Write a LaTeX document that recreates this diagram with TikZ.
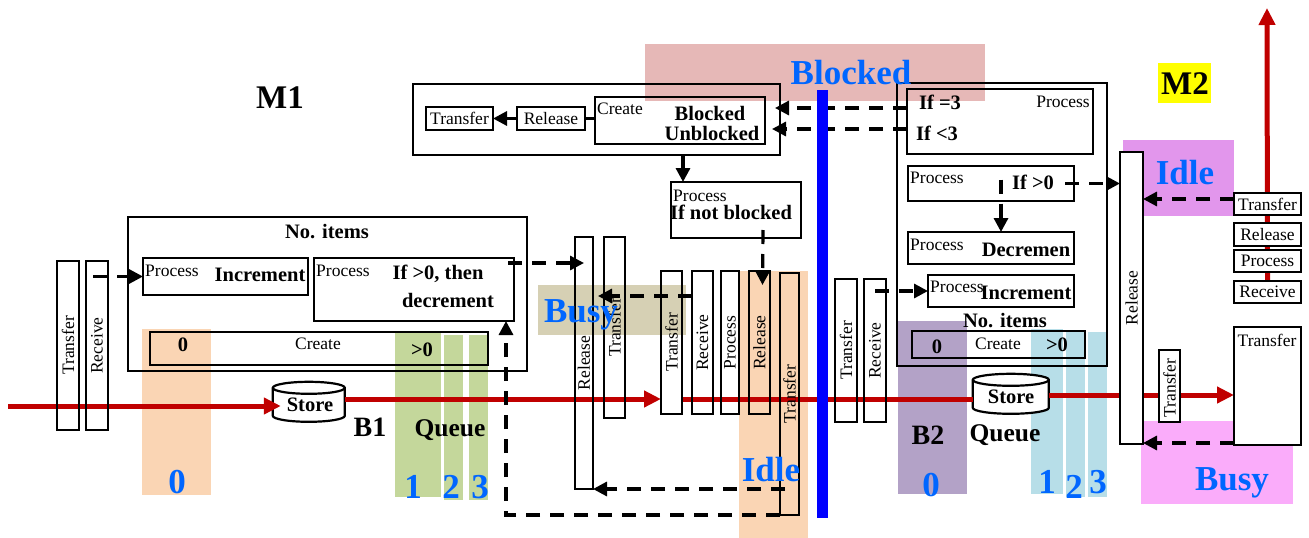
\documentclass[tikz,border=0pt]{standalone}
\usepackage{fontspec}
\setmainfont{Liberation Serif}
\usetikzlibrary{arrows.meta,fit}
\pgfdeclarelayer{bg}
\pgfsetlayers{bg,main}
\definecolor{cpeach}{RGB}{250,213,180}
\definecolor{cgreen}{RGB}{196,215,155}
\definecolor{colive}{RGB}{214,208,180}
\definecolor{cpinkb}{RGB}{230,184,183}
\definecolor{cpurple}{RGB}{179,162,199}
\definecolor{clblue}{RGB}{183,222,232}
\definecolor{cmag}{RGB}{226,150,236}
\definecolor{cpinkr}{RGB}{250,172,250}
\definecolor{cyel}{RGB}{255,255,0}
\definecolor{cred}{RGB}{192,0,0}
\definecolor{cblue}{RGB}{0,0,255}
\definecolor{tblue}{RGB}{0,102,255}
\newcommand{\fs}{\fontsize{17.5}{19}\selectfont}
\newcommand{\fb}{\fontsize{20.5}{22}\selectfont\bfseries}
\newcommand{\fbig}{\fontsize{35}{38}\selectfont\bfseries}
\newcommand{\fq}{\fontsize{25.5}{28}\selectfont\bfseries}
\newcommand{\fbb}{\fontsize{28}{30}\selectfont\bfseries}
\newcommand{\fm}{\fontsize{33}{36}\selectfont\bfseries}
\begin{document}
\begin{tikzpicture}[x=1pt,y=1pt,
  box/.style={draw, line width=2.2pt, inner sep=0pt, outer sep=0pt},
  wbox/.style={box, fill=white},
  dasharr/.style={line width=3.2pt, dash pattern=on 14pt off 10pt, -{Triangle[length=14pt,width=14pt]}},
  solarr/.style={line width=3.2pt, -{Triangle[length=14pt,width=14pt]}},
  solln/.style={line width=3.2pt},
  redarr/.style={line width=5pt, cred, -{Triangle[length=17pt,width=16pt]}},
  redln/.style={line width=5pt, cred},
  sm/.style={font=\fs, inner sep=0pt},
  bd/.style={font=\fb, inner sep=0pt},
  vt/.style={font=\fs, inner sep=0pt, rotate=90},
  big/.style={font=\fbig, text=tblue, inner sep=0pt},
  qq/.style={font=\fq, inner sep=0pt},
  bb/.style={font=\fbb, inner sep=0pt},
  cyl/.style={line width=2.2pt, fill=white}]
\useasboundingbox (0,0) rectangle (1309,-538);
% ---------- boxes ----------
\node[box, fit={(57,-261) (79,-430)}] (trL) {};
\node[box, fit={(86,-261) (108,-430)}] (rcL) {};
\node[box, fit={(128,-217) (527,-371)}] (m1out) {};
\node[box, fit={(143,-258) (308,-295)}] (incL) {};
\node[box, fit={(314,-258) (514,-321)}] (decL) {};
\node[box, fit={(150,-332) (488,-365)}] (crL) {};
\node[box, fit={(413,-84) (780,-155)}] (blkout) {};
\node[box, fit={(426,-107) (493,-130)}] (trT) {};
\node[box, fit={(517,-107) (585,-130)}] (rlT) {};
\node[box, fit={(595,-97) (765,-144)}] (crT) {};
\node[box, fit={(671,-182) (801,-238)}] (nb) {};
\node[box, fit={(575,-237) (593,-489)}] (rl1) {};
\node[box, fit={(604,-237) (625,-418)}] (tr1) {};
\node[box, fit={(661,-271) (682,-414)}] (tr2) {};
\node[box, fit={(692,-271) (713,-414)}] (rc2) {};
\node[box, fit={(721,-271) (739,-414)}] (pr2) {};
\node[box, fit={(749,-271) (770,-414)}] (rl2) {};
\node[box, fit={(780,-273) (799,-515)}] (tr3) {};
\node[box, fit={(835,-279) (857,-422)}] (trR) {};
\node[box, fit={(864,-279) (886,-422)}] (rcR) {};
\node[box, fit={(897,-83) (1107,-366)}] (m2out) {};
\node[box, fit={(907,-89) (1093,-154)}] (ifq) {};
\node[box, fit={(908,-166) (1074,-201)}] (ifg) {};
\node[box, fit={(908,-232) (1074,-264)}] (decR) {};
\node[box, fit={(928,-275) (1074,-307)}] (incR) {};
\node[box, fit={(912,-331) (1085,-358)}] (crR) {};
\node[wbox, fit={(1120,-152) (1143,-444)}] (rlR) {};
\node[wbox, fit={(1159,-350) (1180,-422)}] (trS) {};
\node[wbox, fit={(1234,-193) (1301,-215)}] (trA) {};
\node[wbox, fit={(1234,-223) (1301,-246)}] (rlA) {};
\node[wbox, fit={(1234,-250) (1301,-272)}] (prA) {};
\node[wbox, fit={(1234,-281) (1301,-303)}] (rcA) {};
\node[wbox, fit={(1234,-327) (1301,-445)}] (trB) {};
\node[inner sep=0pt, fit={(273,-382) (345,-422)}] (st1) {};
\node[inner sep=0pt, fit={(973,-374) (1049,-414)}] (st2) {};
\begin{pgfonlayer}{bg}
% ---------- background bands ----------
\fill[cpeach] (142,-329) rectangle (211,-495);
\fill[cgreen] (395,-332) rectangle (441,-497);
\fill[cgreen] (444,-335) rectangle (463,-500);
\fill[cgreen] (469,-335) rectangle (488,-500);
\fill[colive] (538,-285) rectangle (686,-335);
\fill[cpinkb] (645,-44) rectangle (985,-101);
\fill[cpeach] (739,-271) rectangle (808,-538);
\fill[cpurple] (898,-321) rectangle (967,-494);
\fill[clblue] (1031,-329) rectangle (1063,-494);
\fill[clblue] (1066,-331) rectangle (1085,-497);
\fill[clblue] (1088,-332) rectangle (1107,-497);
\fill[cmag] (1123,-140) rectangle (1234,-216);
\fill[cpinkr] (1141,-421) rectangle (1293,-504);
\fill[cyel] (1158,-63) rectangle (1211,-103);
% ---------- stores (cylinders) ----------
\draw[cyl] (st1.north west) ++(0,-6) -- ++(0,-28) arc[start angle=180,end angle=360,x radius=36,y radius=6] -- ++(0,28) arc[start angle=0,end angle=180,x radius=36,y radius=6] -- cycle;
\draw[line width=2.2pt] (st1.north west) ++(0,-6) arc[start angle=180,end angle=360,x radius=36,y radius=6];
\draw[cyl] (st2.north west) ++(0,-6) -- ++(0,-28) arc[start angle=180,end angle=360,x radius=38,y radius=6] -- ++(0,28) arc[start angle=0,end angle=180,x radius=38,y radius=6] -- cycle;
\draw[line width=2.2pt] (st2.north west) ++(0,-6) arc[start angle=180,end angle=360,x radius=38,y radius=6];
% ---------- red flow ----------
\coordinate (inL) at (8,-406);
\coordinate (outT) at (1267,-8);
\coordinate (r2s) at ([yshift=3pt]st1.east);
\coordinate (r4s) at ([yshift=-1pt]st2.east);
\draw[redarr] (inL) -- ([shift={(8,-4)}]st1.west);
\draw[redarr] (r2s) -- (r2s -| tr2.west);
\draw[redln] (tr2.east |- r2s) -- (r2s -| st2.west);
\draw[redarr] (r4s) -- (r4s -| trB.west);
\draw[redarr] (rcA.north) -- (outT);
\end{pgfonlayer}
% ---------- solid connectors ----------
\draw[solarr] (rlT.west) -- (trT.east);
\draw[solln] (crT.west |- rlT.east) -- (rlT.east);
\draw[solarr] ([xshift=12pt]nb.north west |- blkout.south) -- ([xshift=12pt]nb.north west);
% ---------- dashed connectors ----------
\draw[dasharr] ([xshift=-4pt]rcL.center |- incL.west) -- (incL.west);
\coordinate (d2s) at ([shift={(-6,-5)}]decL.north east);
\draw[dasharr] (d2s) -- (d2s -| rl1.center);
\coordinate (d3s) at ([yshift=-25pt]rc2.north west);
\draw[dasharr] (d3s) -- ([xshift=-6pt]d3s -| tr1.west);
\draw[dasharr] ([xshift=5pt]tr3.west |- rl1.south east) -- (rl1.south east);
\draw[dasharr] (tr3.south west) -| ([xshift=-8pt]decL.south east);
\draw[dasharr] ([shift={(-38,8)}]nb.south east) -- ([shift={(3,-14)}]rl2.north);
\coordinate (d7s) at ([yshift=13.5pt]ifq.west);
\coordinate (d8s) at ([yshift=-7.5pt]ifq.west);
\draw[dasharr] (d7s) -- ([xshift=10pt]d7s -| crT.east);
\draw[dasharr] (d8s) -- ([xshift=7pt]d8s -| crT.east);
\draw[dasharr] ([shift={(10,4)}]ifg.center) -- ([xshift=10pt]decR.north);
\draw[dasharr] ([xshift=-9pt]ifg.east) -- (rlR.west |- ifg.east);
\draw[dasharr] (rcR.center |- incR.west) -- (incR.west);
\coordinate (d12s) at ([yshift=5pt]trA.west);
\coordinate (d13s) at ([yshift=2pt]trB.south west);
\draw[dasharr] (d12s) -- (d12s -| rlR.east);
\draw[dasharr] (d13s) -- (d13s -| rlR.east);
% ---------- blocked line ----------
\draw[cblue, line width=11pt] (822,-90) -- (822,-518);
% ---------- texts ----------
\node[font=\fm, inner sep=0pt] (m1) at (280,-98) {M1};
\node[font=\fm, inner sep=0pt] (m2) at (1185,-84) {M2};
\node[big] (tblk) at (851,-73) {Blocked};
\node[vt] at (trL) {Transfer};
\node[vt] at (rcL) {Receive};
\node[bd] at (327,-232) {No. items};
\node[sm, anchor=west] at (145,-271) {Process};
\node[bd] at (260,-275) {Increment};
\node[sm, anchor=west] at (316,-271) {Process};
\node[bd] at (438,-274) {If >0, then};
\node[bd] at (448,-300) {decrement};
\node[bd] at (183,-345) {0};
\node[sm] at (318,-344) {Create};
\node[bd] at (422,-350) {>0};
\node[big] at (177,-482) {0};
\node[big] at (413,-487) {1};
\node[big] at (451,-487) {2};
\node[big] at (480,-487) {3};
\node[qq] at (450,-430) {Queue};
\node[bb] at (370,-427) {B1};
\node[bd] at (310,-405) {Store};
\node[sm] at (trT) {Transfer};
\node[sm] at (rlT) {Release};
\node[sm, anchor=west] at (597,-109) {Create};
\node[bd] at (710,-113) {Blocked};
\node[bd] at (712,-133) {Unblocked};
\node[sm, anchor=west] at (673,-196) {Process};
\node[bd] at (731,-212) {If not blocked};
\node[vt] at (rl1) {Release};
\node[vt] at (tr1) {Transfer};
\node[vt] at (tr2) {Transfer};
\node[vt] at (rc2) {Receive};
\node[vt] at (pr2) {Process};
\node[vt] at (rl2) {Release};
\node[vt] at (tr3) {Transfer};
\node[big] at (581,-315) {Busy};
\node[big] at (771,-470) {Idle};
\node[vt] at (trR) {Transfer};
\node[vt] at (rcR) {Receive};
\node[bd] at (940,-102) {If =3};
\node[bd] at (937,-133) {If <3};
\node[sm] at (1063,-102) {Process};
\node[sm, anchor=west] at (910,-178) {Process};
\node[bd] at (1033,-182) {If >0};
\node[sm, anchor=west] at (910,-245) {Process};
\node[bd] at (1026,-250) {Decremen};
\node[sm, anchor=west] at (930,-287) {Process};
\node[bd] at (1026,-293) {Increment};
\node[bd] at (1005,-321) {No. items};
\node[bd] at (937,-347) {0};
\node[sm] at (998,-344) {Create};
\node[bd] at (1057,-345) {>0};
\node[big] at (931,-485) {0};
\node[big] at (1047,-482) {1};
\node[big] at (1074,-487) {2};
\node[big] at (1098,-482) {3};
\node[bb] at (928,-435) {B2};
\node[qq] at (1005,-435) {Queue};
\node[bd] at (1011,-397) {Store};
\node[vt] at (rlR) {Release};
\node[vt] at ([yshift=-2pt]trS.center) {Transfer};
\node[sm] at (trA) {Transfer};
\node[sm] at (rlA) {Release};
\node[sm] at (prA) {Process};
\node[sm] at (rcA) {Receive};
\node[sm] at (1267,-340) {Transfer};
\node[big] at (1185,-173) {Idle};
\node[big] at (1232,-483) {Busy};
\end{tikzpicture}
\end{document}
